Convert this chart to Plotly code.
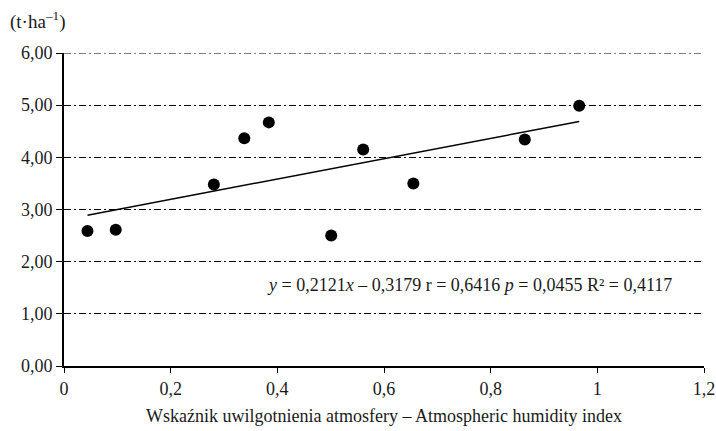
import numpy as np
import plotly.graph_objects as go

# Atmospheric humidity index vs. yield (t/ha)
humidity_index = [0.044, 0.097, 0.281, 0.338, 0.384, 0.501, 0.561, 0.655, 0.864, 0.966]
yield_t_ha = [2.59, 2.61, 3.48, 4.365, 4.67, 2.50, 4.15, 3.50, 4.34, 4.99]

x_tick_vals = [0, 0.2, 0.4, 0.6, 0.8, 1.0, 1.2]
x_tick_text = ["0", "0,2", "0,4", "0,6", "0,8", "1", "1,2"]
y_tick_vals = [0, 1, 2, 3, 4, 5, 6]
y_tick_text = ["0,00", "1,00", "2,00", "3,00", "4,00", "5,00", "6,00"]

equation_text = ("<i>y</i> = 0,2121<i>x</i> – 0,3179 r = 0,6416 "
                 "<i>p</i> = 0,0455 R² = 0,4117")

# Least-squares trend line over the observed range
slope, intercept = np.polyfit(humidity_index, yield_t_ha, 1)
trend_x = [min(humidity_index), max(humidity_index)]
trend_y = [slope * v + intercept for v in trend_x]

FONT = "Liberation Serif, Times New Roman, serif"
INK = "#1a1a1a"
GRID_DASH = "7px,3px,2px,3px"

fig = go.Figure()
fig.add_trace(go.Scatter(
    x=trend_x, y=trend_y, mode="lines",
    line=dict(color="black", width=1.5),
    showlegend=False, hoverinfo="skip",
))
fig.add_trace(go.Scatter(
    x=humidity_index, y=yield_t_ha, mode="markers",
    marker=dict(color="black", size=12),
    showlegend=False,
))

fig.add_annotation(
    x=0.377, y=1.56, xref="x", yref="y",
    text=equation_text, showarrow=False,
    xanchor="left", yanchor="middle",
    font=dict(family=FONT, size=18, color=INK),
)
fig.add_annotation(
    x=-56 / 640, y=1 + 33 / 313, xref="paper", yref="paper",
    text="(t·ha<sup>–1</sup>)", showarrow=False,
    xanchor="left", yanchor="middle",
    font=dict(family=FONT, size=19, color=INK),
)

# The top gridline sits on the plot edge, so draw it explicitly
fig.add_shape(
    type="line", xref="paper", yref="y",
    x0=0, x1=1, y0=max(y_tick_vals), y1=max(y_tick_vals),
    line=dict(color="black", width=1, dash=GRID_DASH),
)

fig.update_layout(
    width=716, height=431,
    margin=dict(l=64, r=12, t=53, b=65),
    paper_bgcolor="white", plot_bgcolor="white",
    font=dict(family=FONT, size=18, color=INK),
)

fig.update_xaxes(
    range=[0, 1.2], tickvals=x_tick_vals, ticktext=x_tick_text,
    showgrid=False, zeroline=False, automargin=False,
    showline=True, linecolor="black", linewidth=2,
    ticks="outside", ticklen=5, tickwidth=1, tickcolor="black",
    tickfont=dict(family=FONT, size=18, color=INK),
    title=dict(text="Wskaźnik uwilgotnienia atmosfery – Atmospheric humidity index",
               font=dict(family=FONT, size=18, color=INK), standoff=12),
)
fig.update_yaxes(
    range=[0, 6], tickvals=y_tick_vals, ticktext=y_tick_text,
    showgrid=True, gridcolor="black", gridwidth=1, griddash=GRID_DASH,
    zeroline=False, automargin=False,
    showline=True, linecolor="black", linewidth=2,
    ticks="outside", ticklen=6, tickwidth=1, tickcolor="black",
    tickfont=dict(family=FONT, size=18, color=INK),
)

fig.write_html("out.html")
